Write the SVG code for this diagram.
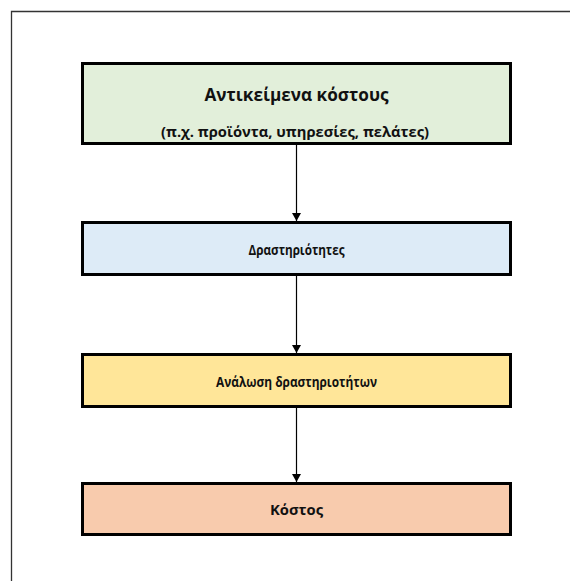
<svg xmlns="http://www.w3.org/2000/svg" width="570" height="581" viewBox="0 0 570 581">
<style>
.box{stroke:#000;stroke-width:3}
.t{font-family:"Open Sans","Liberation Sans",Arial,sans-serif;font-weight:bold;fill:#111;text-anchor:middle}
.c{stroke:#000;stroke-width:1.2;fill:none}
</style>
<defs>
<marker id="ah" markerWidth="8" markerHeight="10" refX="8" refY="4.5" orient="auto" markerUnits="userSpaceOnUse">
<path d="M0,0 L8,4.5 L0,9 Z" fill="#000"/>
</marker>
</defs>
<rect width="570" height="581" fill="#fff"/>
<path d="M11.5,581 V11.5 H570" fill="none" stroke="#333" stroke-width="1.3"/>
<g id="connectors">
<line class="c" x1="296.5" y1="145" x2="296.5" y2="221" marker-end="url(#ah)"/>
<line class="c" x1="296.5" y1="276" x2="296.5" y2="353" marker-end="url(#ah)"/>
<line class="c" x1="296.5" y1="408" x2="296.5" y2="482" marker-end="url(#ah)"/>
</g>
<g id="n1">
<rect class="box" x="82.5" y="63.5" width="428" height="80" fill="#E2EFDA"/>
<text class="t" x="296.5" y="101" font-size="18" textLength="184" lengthAdjust="spacingAndGlyphs">Αντικείμενα κόστους</text>
<text class="t" x="295" y="137" font-size="15" textLength="268" lengthAdjust="spacingAndGlyphs">(π.χ. προϊόντα, υπηρεσίες, πελάτες)</text>
</g>
<g id="n2">
<rect class="box" x="82.5" y="222.5" width="428" height="52" fill="#DDEBF7"/>
<text class="t" x="296.5" y="254.5" font-size="14" textLength="96" lengthAdjust="spacingAndGlyphs">Δραστηριότητες</text>
</g>
<g id="n3">
<rect class="box" x="82.5" y="354.5" width="428" height="52" fill="#FFE699"/>
<text class="t" x="296.5" y="386.5" font-size="14" textLength="161" lengthAdjust="spacingAndGlyphs">Ανάλωση δραστηριοτήτων</text>
</g>
<g id="n4">
<rect class="box" x="82.5" y="483.5" width="428" height="51" fill="#F8CBAD"/>
<text class="t" x="296.5" y="515" font-size="14" textLength="53" lengthAdjust="spacingAndGlyphs">Κόστος</text>
</g>
</svg>
